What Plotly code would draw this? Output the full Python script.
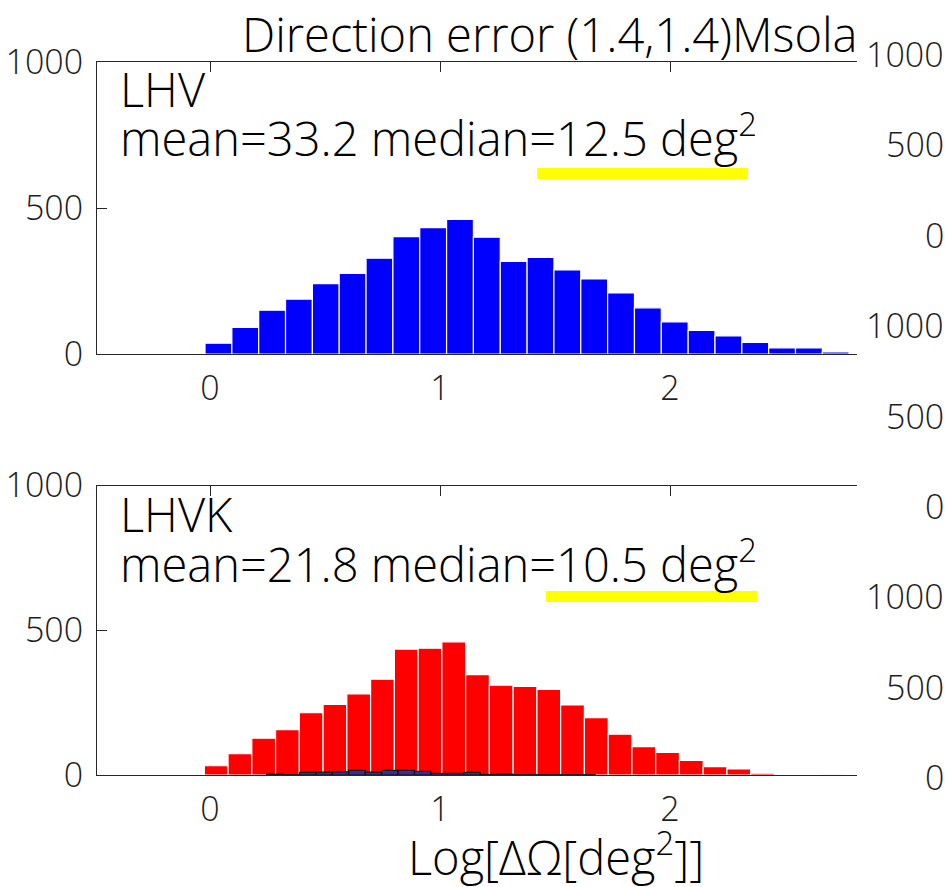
import numpy as np
import plotly.graph_objects as go

# ---------------- data ----------------
title_text = "Direction error (1.4,1.4)Msola"
xlabel_text = "Log[ΔΩ[deg<sup>2</sup>]]"

# top panel (LHV) histogram
lhv_lo, lhv_hi, lhv_n = -0.0217, 2.8958, 25
lhv_counts = [37, 91, 150, 188, 241, 276, 328, 402, 433, 461, 400, 317, 331,
              288, 257, 209, 158, 110, 81, 62, 40, 21, 21, 7, 3]

# bottom panel (LHVK) histogram
lhvk_lo, lhvk_hi, lhvk_n = -0.0248, 2.764, 27
lhvk_counts = [32, 74, 127, 157, 215, 244, 280, 331, 435, 438, 460, 347, 310,
               306, 296, 242, 198, 141, 98, 78, 50, 29, 21, 6, 3, 3, 1]

# small overlaid histogram in bottom panel
small_lo, small_hi, small_n = 0.2465, 1.6745, 20
small_counts = [3, 1, 9, 10, 11, 16, 10, 16, 16, 13, 6, 6, 9, 2, 3, 1, 1, 1, 1, 1]

labels_top = ["LHV", "mean=33.2 median=12.5 deg<sup>2</sup>"]
labels_bot = ["LHVK", "mean=21.8 median=10.5 deg<sup>2</sup>"]

# yellow highlight bars (data coords: x0, x1, y0, y1)
hl_top = [1.422, 2.339, 599, 637]
hl_bot = [1.461, 2.378, 598, 636]

x_ticks = [0, 1, 2]
y_ticks = [0, 500, 1000]
right_tick_labels = ["1000", "500", "0", "1000", "500", "0", "1000", "500", "0"]

# ---------------- layout helpers ----------------
W, H = 945, 887
def fx(p):
    return p / W
def fy(p):
    return 1 - p / H

FONT = "Open Sans"
WT = 360
AX = "#1e1e1e"

def centers(lo, hi, n):
    e = np.linspace(lo, hi, n + 1)
    return (e[:-1] + e[1:]) / 2, (hi - lo) / n

fig = go.Figure()

c, w = centers(lhv_lo, lhv_hi, lhv_n)
fig.add_trace(go.Bar(x=c, y=lhv_counts, width=w, xaxis="x", yaxis="y",
                     marker=dict(color="#0000ff", line=dict(color="white", width=1.2)),
                     showlegend=False, hoverinfo="skip"))

c, w = centers(lhvk_lo, lhvk_hi, lhvk_n)
fig.add_trace(go.Bar(x=c, y=lhvk_counts, width=w, xaxis="x2", yaxis="y2",
                     marker=dict(color="#ff0000", line=dict(color="white", width=1.2)),
                     showlegend=False, hoverinfo="skip"))

c, w = centers(small_lo, small_hi, small_n)
fig.add_trace(go.Bar(x=c, y=small_counts, width=w, xaxis="x2", yaxis="y2",
                     marker=dict(color="#3a2a9a", line=dict(color="#111111", width=1.2)),
                     showlegend=False, hoverinfo="skip"))

xr = [-113 / 230, 647 / 230]
xdom = [fx(97), fx(857)]

def xax(anchor):
    return dict(domain=xdom, range=xr, anchor=anchor, tickvals=x_ticks,
                ticks="inside", ticklen=10, tickcolor="#262626", tickwidth=1,
                showline=True, linecolor="#262626", linewidth=1, mirror="ticks",
                showgrid=False, zeroline=False, layer="below traces",
                automargin=False, ticklabelstandoff=4,
                tickfont=dict(family=FONT, size=34, color=AX, weight=WT))

def yax(anchor, dom):
    return dict(domain=dom, range=[0, 1000], anchor=anchor, tickvals=y_ticks,
                ticks="inside", ticklen=10, tickcolor="#262626", tickwidth=1,
                showline=True, linecolor="#262626", linewidth=1, mirror=False,
                showgrid=False, zeroline=False, layer="below traces",
                automargin=False, ticklabelstandoff=6,
                tickfont=dict(family=FONT, size=34, color=AX, weight=WT))

fig.update_layout(
    width=W, height=H, margin=dict(l=0, r=0, t=0, b=0, autoexpand=False),
    paper_bgcolor="white", plot_bgcolor="white",
    barmode="overlay",
    xaxis=xax("y"), yaxis=yax("x", [fy(354), fy(62)]),
    xaxis2=xax("y2"), yaxis2=yax("x2", [fy(775), fy(485.5)]),
)

shapes = []
for hl, xref, yref in [(hl_top, "x", "y"), (hl_bot, "x2", "y2")]:
    shapes.append(dict(type="rect", xref=xref, yref=yref, x0=hl[0], x1=hl[1],
                       y0=hl[2], y1=hl[3], fillcolor="#ffff00", line=dict(width=0),
                       layer="above"))
fig.update_layout(shapes=shapes)

ann = []
def txt(t, x, y, size, xanchor="left", color="black"):
    ann.append(dict(text=t, x=fx(x), y=fy(y), xref="paper", yref="paper",
                    xanchor=xanchor, yanchor="middle", showarrow=False,
                    font=dict(family=FONT, size=size, color=color, weight=WT)))

txt(labels_top[0], 118, 89, 47)
txt(labels_top[1], 118, 136, 47)
txt(labels_bot[0], 118, 514, 47)
txt(labels_bot[1], 118, 561, 47)
txt(title_text, 860, 34, 47, xanchor="right")
txt(xlabel_text, 556, 854, 47, xanchor="center")

for i, lab in enumerate(right_tick_labels):
    yc = 54 + i * (777 - 54) / 8
    txt(lab, 946, yc, 34, xanchor="right", color=AX)

fig.update_layout(annotations=ann)
fig.write_html("out.html")
